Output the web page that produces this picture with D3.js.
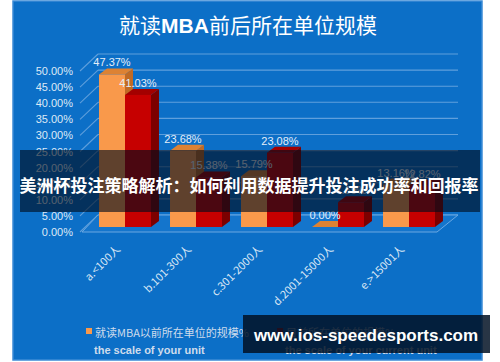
<!DOCTYPE html>
<html>
<head>
<meta charset="utf-8">
<script src="https://cdn.jsdelivr.net/npm/d3@7"></script>
<style>
  body { margin: 0; background: #fff; }
  svg { display: block; }
  text { font-family: "Liberation Sans", Arial, sans-serif; }
  .cjk { font-family: "Noto Sans CJK SC", "Liberation Sans", sans-serif; }
</style>
</head>
<body>
<div id="chart"></div>
<script>
// chart data
const categories = ["a.<100人", "b.101-300人", "c.301-2000人", "d.2001-15000人", "e.>15001人"];
const seriesNames = ["就读MBA以前所在单位的规模%", "目前所在单位的规模%"];
const seriesSub = ["the scale of your unit", "the scale of your current unit"];
const beforeMBA = [47.37, 23.68, 15.79, 0.00, 13.16];
const currentUnit = [41.03, 15.38, 23.08, 7.69, 12.82];
const yTicks = [0, 5, 10, 15, 20, 25, 30, 35, 40, 45, 50];

const W = 500, H = 362;
const svg = d3.select("#chart").append("svg").attr("width", W).attr("height", H);

// blue panel
svg.append("rect").attr("x", 13).attr("y", 1).attr("width", 469).attr("height", 359)
  .attr("fill", "#0c6fc7").attr("stroke", "#3b8bd6").attr("stroke-width", 1.5);

// title
const title = svg.append("text").attr("class", "cjk").attr("x", 248).attr("y", 33)
  .attr("text-anchor", "middle").attr("fill", "#fff").attr("font-size", 21);
title.append("tspan").text("就读");
title.append("tspan").attr("font-weight", "bold").attr("font-family", "Liberation Sans, Arial").text("MBA");
title.append("tspan").text("前后所在单位规模");

// 3d helpers: front plane (labels), back wall offset
const back = {dx: 18, dy: -17};
const yFront = d3.scaleLinear().domain([0, 50]).range([232, 71]);
const yBack = v => yFront(v) + back.dy;
const yBar = d3.scaleLinear().domain([0, 50]).range([227, 66]);
const depth = {dx: 8, dy: -6};

const x0 = d3.scaleBand().domain(categories).range([89.5, 444.5]).paddingInner(0.268).paddingOuter(0.134);
const x1 = d3.scaleBand().domain([0, 1]).range([0, x0.bandwidth()]);

const wallL = 80 + back.dx, wallR = 458;
const grid = svg.append("g").attr("stroke", "#5f9fdc").attr("stroke-width", 1.1).attr("fill", "none");
yTicks.forEach(v => {
  grid.append("line").attr("x1", wallL).attr("x2", wallR).attr("y1", yBack(v)).attr("y2", yBack(v));
  grid.append("line").attr("x1", 80).attr("x2", wallL).attr("y1", yFront(v)).attr("y2", yBack(v));
});

// floor
svg.append("path")
  .attr("d", `M82,${yFront(0)}L437,${yFront(0)}L${437 + back.dx + 3},${yBack(0)}L${wallL},${yBack(0)}Z`)
  .attr("fill", "#1475cc").attr("stroke", "#6aa8e2").attr("stroke-width", 1);

// y axis labels
svg.append("g").selectAll("text").data(yTicks).join("text")
  .attr("x", 73).attr("y", d => yFront(d) + 4)
  .attr("text-anchor", "end").attr("font-size", 11).attr("fill", "#dde9f6")
  .text(d => d.toFixed(2) + "%");

// bars
const colors = [
  {front: "#f9994b", top: "#dd8233", side: "#c06a24"},
  {front: "#c60000", top: "#a30000", side: "#7c0000"}
];
const bars = [];
categories.forEach((c, i) => {
  [beforeMBA[i], currentUnit[i]].forEach((v, s) => {
    bars.push({cat: c, s: s, v: v, x: x0(c) + x1(s), w: x1.bandwidth()});
  });
});

const barG = svg.append("g");
bars.forEach(b => {
  const x = b.x, w = b.w, y0 = yBar(0), y = yBar(b.v), c = colors[b.s];
  const g = barG.append("g");
  g.append("path").attr("fill", c.side)
    .attr("d", `M${x + w},${y}L${x + w + depth.dx},${y + depth.dy}L${x + w + depth.dx},${y0 + depth.dy}L${x + w},${y0}Z`);
  g.append("path").attr("fill", c.top)
    .attr("d", `M${x},${y}L${x + depth.dx},${y + depth.dy}L${x + w + depth.dx},${y + depth.dy}L${x + w},${y}Z`);
  g.append("rect").attr("x", x).attr("y", y).attr("width", w).attr("height", y0 - y).attr("fill", c.front);
});

// value labels
svg.append("g").selectAll("text").data(bars).join("text")
  .attr("x", d => d.x + d.w / 2).attr("y", d => yBar(d.v) - 8)
  .attr("text-anchor", "middle").attr("font-size", 11).attr("fill", "#e4eef9")
  .text(d => d.v.toFixed(2) + "%");

// category labels
svg.append("g").selectAll("text").data(categories).join("text")
  .attr("class", "cjk")
  .attr("transform", d => `translate(${x0(d) + x0.bandwidth() / 2 - 4},250) rotate(-45)`)
  .attr("text-anchor", "end").attr("font-size", 11).attr("fill", "#dbe7f5")
  .text(d => d);

// legend
const legX = [86, 277];
seriesNames.forEach((n, s) => {
  svg.append("rect").attr("x", legX[s]).attr("y", 328).attr("width", 6).attr("height", 6)
    .attr("fill", colors[s].front);
  svg.append("text").attr("class", "cjk").attr("x", legX[s] + 9).attr("y", 337)
    .attr("font-size", 11).attr("fill", "#cfdcec").text(n);
  svg.append("text").attr("x", legX[s] + 8).attr("y", 354)
    .attr("font-size", 11).attr("font-weight", "bold").attr("fill", "#cfdcec").text(seriesSub[s]);
});

// overlay banner
svg.append("rect").attr("x", 20).attr("y", 150).attr("width", 460).attr("height", 62)
  .attr("fill", "rgb(0,12,28)").attr("opacity", 0.62);
svg.append("text").attr("class", "cjk").attr("x", 249).attr("y", 192)
  .attr("text-anchor", "middle").attr("font-size", 17).attr("font-weight", "bold").attr("fill", "#fff")
  .text("美洲杯投注策略解析：如何利用数据提升投注成功率和回报率");

// watermark
svg.append("rect").attr("x", 243).attr("y", 315).attr("width", 247).attr("height", 38)
  .attr("fill", "rgb(2,18,36)").attr("opacity", 0.85);
svg.append("text").attr("x", 366).attr("y", 341)
  .attr("text-anchor", "middle").attr("font-size", 17).attr("font-weight", "bold")
  .attr("font-family", "DejaVu Sans, sans-serif").attr("fill", "#fff")
  .text("www.ios-speedesports.com");
</script>
</body>
</html>
